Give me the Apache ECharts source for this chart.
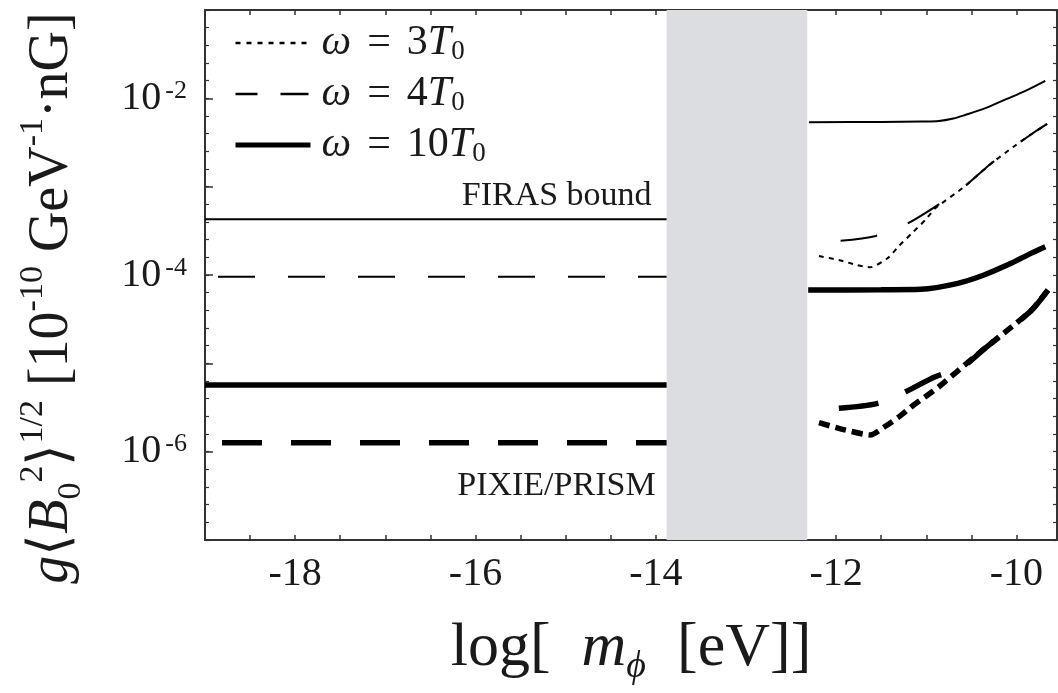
<!DOCTYPE html>
<html><head><meta charset="utf-8">
<script src="https://cdn.jsdelivr.net/npm/echarts@6/dist/echarts.min.js"></script>
<style>html,body{margin:0;padding:0;background:#fff}#c{width:1058px;height:693px}</style>
</head><body><div id="c"></div>
<script>
// ---- data ----
const xEvenLabels = [-18, -16, -14, -12, -10];
const yLabelExponents = [-2, -4, -6];
const seriesNames = ['w3', 'w4', 'w10'];
const legendTexts = ['{i|ω}{eq|=}3{i|T}{sub|0}', '{i|ω}{eq|=}4{i|T}{sub|0}', '{i|ω}{eq|=}10{i|T}{sub|0}'];
const annotTexts = ['FIRAS bound', 'PIXIE/PRISM'];
const bandRange = [-13.88, -12.32];

const leftX = [-19, -13.88];
const firas10Left = [4.27e-4, 4.27e-4];
const firas4Left = [9.57e-5, 9.57e-5];
const pixie10Left = [5.69e-6, 5.69e-6];
const pixie4Left = [1.26e-6, 1.26e-6];

const firas10X = [-12.3, -11.5, -11.05, -10.86, -10.7, -10.57, -10.35, -10.12, -9.9, -9.68];
const firas10Y = [5.36e-3, 5.4e-3, 5.46e-3, 5.53e-3, 5.91e-3, 6.47e-3, 7.69e-3, 9.73e-3, 1.216e-2, 1.578e-2];

const firas4X = [-11.95, -11.56, -11.22, -10.9, -10.6, -10.29, -10.02, -9.83, -9.66];
const firas4Y = [2.44e-4, 2.77e-4, 3.78e-4, 5.94e-4, 9.59e-4, 1.795e-3, 2.89e-3, 3.95e-3, 5.13e-3];

const firas3X = [-12.19, -11.97, -11.77, -11.62, -11.43, -11.3, -11.16, -11.01, -10.9, -10.6, -10.29, -10.02, -9.83, -9.66];
const firas3Y = [1.64e-4, 1.479e-4, 1.297e-4, 1.222e-4, 1.545e-4, 2.148e-4, 2.965e-4, 4.2e-4, 5.69e-4, 9.59e-4, 1.795e-3, 2.89e-3, 3.95e-3, 5.13e-3];

const pixie10X = [-12.31, -11.5, -11.06, -10.65, -10.36, -10.06, -9.84, -9.68];
const pixie10Y = [6.76e-5, 6.81e-5, 6.89e-5, 8.05e-5, 1.0e-4, 1.355e-4, 1.758e-4, 2.089e-4];

const pixie4X = [-11.97, -11.54, -11.23, -10.9, -10.6, -10.35, -10.05, -9.83, -9.65];
const pixie4Y = [3.1e-6, 3.52e-6, 4.78e-6, 7.06e-6, 9.12e-6, 1.479e-5, 2.6e-5, 4.02e-5, 6.76e-5];

const pixie3X = [-12.19, -11.93, -11.62, -11.45, -11.3, -11.14, -11.01, -10.86, -10.64, -10.35, -10.05, -9.83, -9.65];
const pixie3Y = [2.13e-6, 1.79e-6, 1.545e-6, 1.95e-6, 2.49e-6, 3.37e-6, 4.19e-6, 5.43e-6, 8.39e-6, 1.479e-5, 2.6e-5, 4.02e-5, 6.76e-5];

// ---- chart ----
const FONT = 'Liberation Serif';
const INK = '#1a1a1a';
const CLEAR = 'rgba(0,0,0,0)';
function pairs(xs, ys) { return xs.map((x, i) => [x, ys[i]]); }
function line(name, xs, ys, width, dash, offset, smooth) {
  return {
    type: 'line', name: name, data: pairs(xs, ys), symbol: 'none', smooth: smooth || false,
    yAxisIndex: 0, xAxisIndex: 0, silent: true, z: 3,
    itemStyle: { color: '#000' },
    lineStyle: { color: '#000', width: width, type: dash || 'solid', dashOffset: offset || 0, cap: 'butt' }
  };
}
const thinDash = [37, 33], thickDash = [40, 29], thinDot = [5, 5], thickDot = [11, 6];

const sFiras10L = line('w10', leftX, firas10Left, 2, 'solid');
sFiras10L.markArea = { silent: true, itemStyle: { color: '#dcdde1' }, data: [[{ xAxis: bandRange[0] }, { xAxis: bandRange[1] }]] };
sFiras10L.markPoint = { silent: true, symbol: 'circle', symbolSize: 1, itemStyle: { color: CLEAR },
  data: [{ coord: [leftX[1], firas10Left[1]], label: { show: true, formatter: annotTexts[0], position: 'top', align: 'right', offset: [-15, -1], fontFamily: FONT, fontSize: 34, color: INK } }] };
const sPixie4L = line('w4', leftX, pixie4Left, 5.5, thickDash, 52);
sPixie4L.markPoint = { silent: true, symbol: 'circle', symbolSize: 1, itemStyle: { color: CLEAR },
  data: [{ coord: [leftX[1], pixie4Left[1]], label: { show: true, formatter: annotTexts[1], position: 'bottom', distance: 26, align: 'right', offset: [-11, 0], fontFamily: FONT, fontSize: 34, color: INK } }] };

const series = [
  sFiras10L,
  line('w4', leftX, firas4Left, 2, thinDash, 57),
  line('w10', leftX, pixie10Left, 5.5, 'solid'),
  sPixie4L,
  line('w10', firas10X, firas10Y, 2, 'solid', 0, 0.3),
  line('w4', firas4X, firas4Y, 2, thinDash, 0, 0.3),
  line('w3', firas3X, firas3Y, 2, thinDot, 0, 0.2),
  line('w10', pixie10X, pixie10Y, 5.5, 'solid', 0, 0.3),
  line('w4', pixie4X, pixie4Y, 5.5, thickDash, 0, 0.3),
  line('w3', pixie3X, pixie3Y, 5.5, thickDot, 0, 0.2)
];

const baseRich = {
  n: { fontFamily: FONT, fontSize: 56, lineHeight: 72, color: INK, verticalAlign: 'middle' },
  i: { fontFamily: FONT, fontSize: 56, lineHeight: 72, color: INK, fontStyle: 'italic', verticalAlign: 'middle' },
  sup: { fontFamily: FONT, fontSize: 34, lineHeight: 32, color: INK, verticalAlign: 'top' },
  sub: { fontFamily: FONT, fontSize: 34, lineHeight: 32, color: INK, verticalAlign: 'bottom' }
};

const option = {
  animation: false,
  backgroundColor: '#fff',
  grid: { left: 205, top: 10, right: 1, bottom: 153, containLabel: false, outerBoundsMode: 'none' },
  legend: {
    show: true, orient: 'vertical', left: 233, top: 21, padding: 0, itemWidth: 75, itemHeight: 14, itemGap: 7,
    selectedMode: false,
    data: [
      { name: seriesNames[0], itemStyle: { color: CLEAR, borderWidth: 0 }, lineStyle: { type: [5, 6], width: 2.5, color: '#000' } },
      { name: seriesNames[1], itemStyle: { color: CLEAR, borderWidth: 0 }, lineStyle: { type: [28, 23], width: 2.5, color: '#000' } },
      { name: seriesNames[2], itemStyle: { color: CLEAR, borderWidth: 0 }, lineStyle: { type: 'solid', width: 5, color: '#000' } }
    ],
    formatter: function (name) { return legendTexts[seriesNames.indexOf(name)]; },
    textStyle: {
      fontFamily: FONT, fontSize: 42, color: INK, padding: [0, 0, 0, 6], lineHeight: 44,
      rich: {
        i: { fontFamily: FONT, fontSize: 42, fontStyle: 'italic', color: INK, lineHeight: 44 },
        eq: { fontFamily: FONT, fontSize: 42, color: INK, padding: [0, 16, 0, 16], lineHeight: 44 },
        sub: { fontFamily: FONT, fontSize: 27, color: INK, lineHeight: 22, verticalAlign: 'bottom' }
      }
    }
  },
  xAxis: [
    {
      type: 'value', min: -19, max: -9.55, interval: 0.5, position: 'bottom',
      axisLine: { show: true, onZero: false, lineStyle: { color: '#333', width: 2 } },
      axisTick: { show: true, inside: true, length: 5, lineStyle: { color: '#333', width: 1.5 } },
      splitLine: { show: false },
      axisLabel: {
        show: true, margin: 14, fontFamily: FONT, fontSize: 40, color: INK, showMinLabel: true, showMaxLabel: true,
        formatter: function (v) {
          const r = Math.round(v);
          return (Math.abs(v - r) < 1e-6 && xEvenLabels.indexOf(r) >= 0) ? String(r) : '';
        }
      },
      name: 'log[  {i|m}{sub|ϕ}  [eV]]', nameLocation: 'middle', nameGap: 72,
      nameTextStyle: { fontFamily: FONT, fontSize: 62, color: INK, lineHeight: 74,
        rich: {
          i: { fontFamily: FONT, fontSize: 62, fontStyle: 'italic', color: INK, lineHeight: 74 },
          sub: { fontFamily: FONT, fontSize: 38, fontStyle: 'italic', color: INK, lineHeight: 34, verticalAlign: 'bottom' }
        } }
    },
    {
      type: 'value', min: -19, max: -9.55, interval: 0.5, position: 'top',
      axisLine: { show: true, onZero: false, lineStyle: { color: '#333', width: 2 } },
      axisTick: { show: true, inside: true, length: 5, lineStyle: { color: '#333', width: 1.5 } },
      axisLabel: { show: false }, splitLine: { show: false }
    }
  ],
  yAxis: [
    {
      type: 'log', logBase: 10, min: 1e-7, max: 1e-1, position: 'left',
      axisLine: { show: true, onZero: false, lineStyle: { color: '#333', width: 2 } },
      axisTick: { show: true, inside: true, length: 8, lineStyle: { color: '#333', width: 1.5 } },
      splitLine: { show: false },
      axisLabel: {
        show: true, margin: 18, color: INK,
        formatter: function (v) {
          const e = Math.round(Math.log10(v));
          return yLabelExponents.indexOf(e) >= 0 ? '{b|10}{s|' + e + '}' : '';
        },
        rich: {
          b: { fontFamily: FONT, fontSize: 40, lineHeight: 40, color: INK, verticalAlign: 'middle' },
          s: { fontFamily: FONT, fontSize: 26, lineHeight: 16, color: INK, verticalAlign: 'top', padding: [0, 0, 0, 4] }
        }
      },
      name: '{i|g}{n|⟨}{i|B}{sub|0}{sup|2}{n|⟩}{sup|1/2}{n| [10}{sup|-10}{n| GeV}{sup|-1}{n|·nG]}',
      nameLocation: 'middle', nameRotate: 90, nameGap: 117,
      nameTextStyle: { fontFamily: FONT, fontSize: 56, color: INK, lineHeight: 72, padding: [0, 46, 0, 0], rich: baseRich }
    },
    {
      type: 'value', min: -7, max: -1, interval: 0.2, position: 'left',
      axisLine: { show: false }, splitLine: { show: false }, axisLabel: { show: false },
      axisTick: { show: true, inside: true, length: 4, lineStyle: { color: '#333', width: 1.2 } }
    },
    {
      type: 'value', min: -7, max: -1, interval: 0.2, position: 'right',
      axisLine: { show: true, onZero: false, lineStyle: { color: '#333', width: 2 } }, splitLine: { show: false }, axisLabel: { show: false },
      axisTick: { show: true, inside: true, length: 4, lineStyle: { color: '#333', width: 1.2 } }
    }
  ],
  series: series
};
const chart = echarts.init(document.getElementById('c'), null, { renderer: 'canvas' });
chart.setOption(option);
</script></body></html>
